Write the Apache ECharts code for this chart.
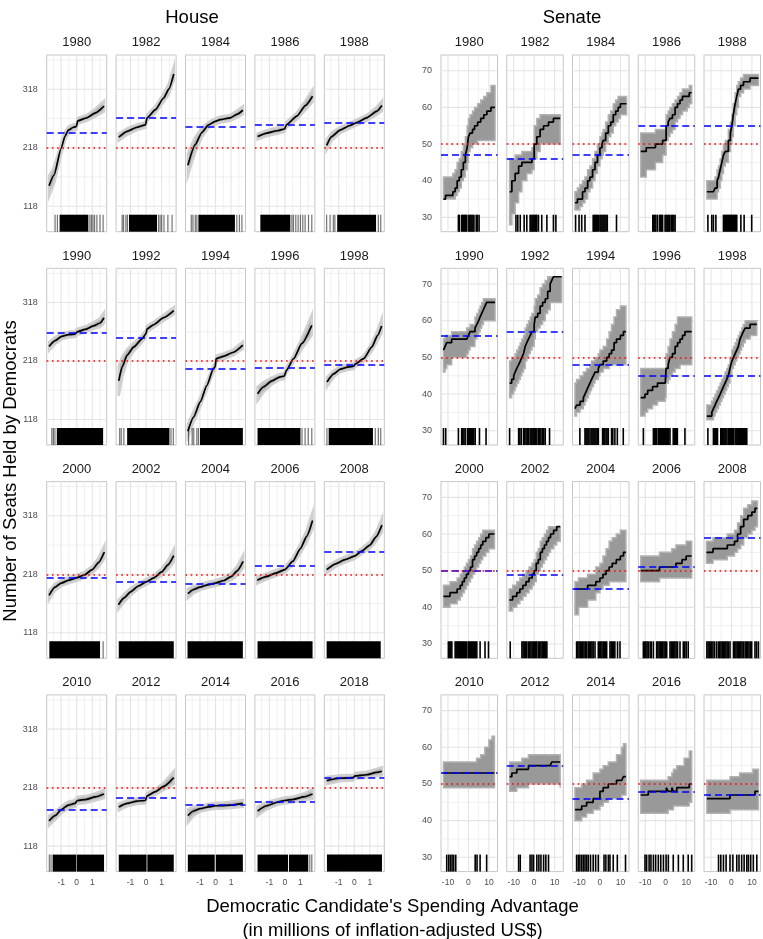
<!DOCTYPE html>
<html><head><meta charset="utf-8">
<script src="https://cdn.jsdelivr.net/npm/echarts@6/dist/echarts.min.js"></script>
<style>html,body{margin:0;padding:0;background:#fff}#c{width:763px;height:939px}</style>
</head><body><div id="c"></div>
<script>
// ---------------- DATA ----------------
const houseYears = [1980,1982,1984,1986,1988,1990,1992,1994,1996,1998,2000,2002,2004,2006,2008,2010,2012,2014,2016,2018];
const houseSeats = [243,269,253,258,260,267,258,204,207,211,212,205,202,233,257,180,201,188,194,235];
const houseMajority = 218;
// each point: [spending advantage, seats, lower, upper]
const houseCurves = [
 [[-1.78,153,135,170],[-1.46,171,156,185],[-1.0,217,207,226],[-0.75,238,231,245],[-0.54,248,242,254],[-0.21,253,248,258],[-0.02,254,249,259],[0.06,264,259,269],[0.64,269,264,274],[1.18,277,271,284],[1.76,289,280,298]],
 [[-1.76,236,230,242],[-1.22,246,240,251],[-0.58,253,248,258],[-0.04,257,252,262],[0.06,269,264,274],[0.6,283,277,289],[1.13,303,296,311],[1.46,318,309,327],[1.78,344,333,356]],
 [[-1.78,188,170,208],[-1.31,223,210,236],[-0.88,244,236,252],[-0.45,257,252,262],[-0.02,263,258,268],[0.3,266,261,271],[0.94,269,264,274],[1.37,275,269,281],[1.76,282,275,289]],
 [[-1.76,237,232,242],[-1.16,243,238,248],[-0.51,247,242,252],[-0.02,250,245,255],[0.09,257,252,262],[0.77,272,266,278],[1.31,290,282,298],[1.78,306,296,317]],
 [[-1.78,222,214,232],[-1.46,237,230,244],[-0.92,248,243,253],[-0.28,256,251,261],[0.15,261,256,266],[0.79,269,264,274],[1.43,280,274,287],[1.78,290,281,298]],
 [[-1.78,243,236,250],[-1.39,253,247,259],[-0.96,260,255,265],[-0.54,263,258,268],[-0.11,264,259,269],[0.04,268,263,273],[0.54,272,267,277],[1.07,278,273,284],[1.5,283,276,291],[1.76,292,283,301]],
 [[-1.76,184,158,210],[-1.54,208,190,225],[-1.22,228,218,238],[-0.79,242,235,249],[-0.26,256,250,262],[0,265,259,271],[0.06,273,268,278],[0.49,280,275,285],[1.13,292,287,297],[1.78,304,298,310]],
 [[-1.78,98,88,110],[-1.41,122,113,131],[-0.98,148,140,156],[-0.56,176,169,183],[-0.13,205,199,211],[-0.02,208,202,214],[0.04,222,217,227],[0.51,226,221,231],[1.16,233,228,238],[1.76,245,239,251]],
 [[-1.76,162,150,174],[-1.37,174,165,182],[-0.84,184,178,190],[-0.3,191,186,196],[-0.04,192,187,197],[0.09,202,197,207],[0.56,222,216,228],[1.09,248,239,257],[1.73,279,262,297]],
 [[-1.76,182,174,190],[-1.33,196,190,202],[-0.9,204,199,209],[-0.36,208,203,213],[-0.04,209,204,214],[0.06,213,208,218],[0.6,222,217,227],[1.13,242,235,249],[1.5,262,253,271],[1.76,278,266,290]],
 [[-1.78,182,174,190],[-1.4,196,190,202],[-1.0,203,198,208],[-0.5,208,203,213],[0,212,207,217],[0.5,217,212,222],[1.0,226,220,232],[1.4,238,230,246],[1.78,256,245,267]],
 [[-1.78,166,158,174],[-1.4,178,171,185],[-1.0,188,182,194],[-0.5,198,193,203],[0,205,200,210],[0.5,212,207,217],[1.0,222,216,228],[1.4,234,226,242],[1.78,250,239,261]],
 [[-1.78,185,177,193],[-1.4,192,186,198],[-1.0,196,191,201],[-0.5,200,195,205],[0,203,198,208],[0.5,207,202,212],[1.0,214,208,220],[1.4,224,216,232],[1.78,240,229,251]],
 [[-1.78,208,202,214],[-1.2,214,209,219],[-0.6,220,215,225],[0,226,221,231],[0.5,240,234,246],[1.0,262,254,270],[1.4,283,273,293],[1.78,310,296,324]],
 [[-1.78,226,220,232],[-1.2,236,231,241],[-0.6,243,238,248],[0,249,244,254],[0.5,258,253,263],[1.0,268,262,274],[1.4,282,274,290],[1.78,302,290,314]],
 [[-1.78,161,153,170],[-1.39,170,163,177],[-0.96,181,175,187],[-0.54,188,182,194],[-0.11,191,185,197],[0.04,196,190,202],[0.64,198,192,204],[1.18,202,196,208],[1.76,207,200,214]],
 [[-1.76,185,179,191],[-1.22,191,186,196],[-0.58,195,190,200],[-0.04,196,191,201],[0.06,204,199,209],[0.6,211,206,216],[1.13,220,214,226],[1.78,235,224,246]],
 [[-1.78,170,158,181],[-1.41,178,170,185],[-0.98,182,177,187],[-0.45,185,180,190],[-0.02,187,182,192],[0.41,187,182,192],[0.94,188,183,194],[1.76,191,185,197]],
 [[-1.76,178,170,186],[-1.16,187,181,193],[-0.51,193,188,198],[-0.02,196,191,201],[0.56,198,193,203],[1.2,202,196,208],[1.78,207,199,215]],
 [[-1.78,230,224,236],[-0.92,234,229,239],[-0.06,235,230,240],[0.04,238,233,243],[0.79,240,235,245],[1.43,244,238,250],[1.78,246,239,253]]
];
// dense stretches of races (solid) and isolated races
const houseRugBlocks = [
 [[-1.1,0.75]],[[-1.1,0.7]],[[-1.1,1.25]],[[-1.58,0.35]],[[-1.1,1.4]],
 [[-1.28,1.7]],[[-1.22,1.5]],[[-1.0,1.76]],[[-1.76,1.0]],[[-1.65,1.2]],
 [[-1.76,1.5]],[[-1.76,1.78]],[[-1.8,1.76]],[[-1.76,1.78]],[[-1.78,1.7]],
 [[-1.55,-0.02],[0.02,1.76]],[[-1.76,0.03],[0.08,1.78]],[[-1.78,-0.05],[0.02,1.76]],[[-1.76,0.2],[0.26,1.5]],[[-1.76,1.78]]
];
const houseRugTicks = [
 [-1.39,-1.24,0.85,0.95,1.05,1.15,1.3,1.5,1.7],
 [-1.54,-1.45,-1.3,-1.2,0.8,0.9,1.0,1.15,1.4,1.67],
 [-1.56,-1.45,-1.3,-1.2,1.37,1.54,1.7],
 [0.45,0.55,0.7,0.85,1.0,1.15,1.3,1.52,1.73],
 [-1.78,-1.56,-1.35,-1.25,1.55,1.7],
 [-1.6,-1.5,-1.4],
 [-1.7,-1.6,-1.43,1.6,1.75],
 [-1.73,-1.5,-1.4,-1.2,-1.1],
 [1.1,1.3,1.5,1.73],
 [-1.76,1.35,1.55,1.7],
 [1.7],[],[],[],[],
 [-1.76,-1.65],[],[],[1.6,1.73],[]
];

const senateYears = houseYears.slice();
const senateSeats = [47,46,47,55,55,56,57,48,45,45,50,49,45,51,59,53,55,46,48,47];
const senateMajority = 50;
const senateCurves = [
 [[-12.2,35,35,41],[-11.2,36,35,41],[-7.6,37,35,42],[-6.5,38,36,43],[-5.5,40,37,45],[-4.5,41,38,46],[-3.5,43,40,48],[-2.5,45,41,50],[-1.5,47,43,52],[-0.6,49,45,55],[0,52,48,57],[0.8,53,49,58],[2,54,50,59],[3,55,50,60],[4.5,56,51,61],[6,57,51,62],[7.5,58,51,63],[9,59,51,64],[11,60,51,66],[13,60,51,66]],
 [[-12,37,28,46],[-10.9,40,31,46],[-9.3,42,34,47],[-7.6,44,37,47],[-6,45,40,48],[-3.6,45,42,48],[-1.1,46,43,49],[0,50,46,55],[1.3,52,48,57],[2.9,54,50,58],[4.6,55,50,58],[7,56,50,58],[9.4,57,50,58],[12.7,57,50,58]],
 [[-12.2,34,32,37],[-11,35,32,38],[-9.8,35,33,39],[-8.5,37,34,40],[-7.3,38,35,41],[-6,40,37,43],[-4.9,41,38,44],[-3.6,43,40,46],[-2.4,45,42,48],[-1.2,47,44,50],[0,49,46,52],[1,50,47,53],[1.6,51,48,54],[2.8,53,50,56],[4.1,55,52,58],[5.3,56,53,59],[6.5,58,55,61],[7.7,59,56,62],[8.9,60,57,63],[10,61,58,63],[13,61,58,63]],
 [[-12.2,48,41,53],[-9.5,49,43,53],[-5,50,45,54],[-1.5,51,47,54],[0.2,55,51,58],[1.2,56,52,59],[2.1,57,53,60],[3.3,58,54,61],[4.6,60,56,62],[5.8,61,57,63],[7,62,58,64],[8.2,63,59,65],[10.5,63,60,65],[11.5,64,61,66],[12.7,64,61,66]],
 [[-12,37,35,40],[-8.8,37,35,40],[-8,38,35,41],[-7,40,37,43],[-6.3,41,38,44],[-5.5,43,40,46],[-4.7,45,42,48],[-3.9,47,44,50],[-3,48,45,51],[-1.5,51,48,54],[-0.5,53,50,56],[0.2,55,52,58],[0.9,58,55,61],[1.8,61,58,64],[2.6,63,60,66],[3.4,65,63,67],[4.5,66,64,68],[5.9,67,65,69],[9.1,68,66,69],[13.2,68,66,69]],
 [[-12.2,52,46,55],[-11.4,53,47,56],[-10.6,54,48,56],[-8.2,55,50,57],[-0.8,55,51,58],[0,56,52,58],[0.8,57,53,59],[3.2,58,55,61],[4.1,59,56,62],[5,60,57,63],[5.7,61,58,64],[6.5,62,59,65],[7.3,63,60,66],[8.1,64,60,66],[8.9,65,60,66],[13,65,60,66]],
 [[-12,43,39,49],[-11,44,40,50],[-10,45,41,50],[-9.3,46,42,51],[-8.5,47,43,52],[-7.6,48,44,53],[-6.8,49,45,54],[-6,50,46,55],[-5.2,51,47,56],[-4.4,53,49,58],[-3.6,54,50,59],[-2.8,55,51,60],[-1.9,56,52,61],[-1.1,57,53,62],[0,59,55,64],[0.5,61,57,66],[1.7,62,58,67],[2.9,64,59,69],[4.1,65,60,70],[5.4,66,62,71],[6.6,68,63,72],[7.8,70,65,72],[8.6,71,65,72],[9.4,72,65,72],[13.4,72,65,72]],
 [[-12.2,36,34,43],[-11.4,37,35,44],[-9.7,38,36,45],[-8.1,39,37,46],[-7.3,40,38,46],[-6.5,41,39,47],[-5.7,42,40,47],[-4.9,43,41,48],[-4.1,44,42,49],[-3.2,45,43,49],[-2.4,46,44,50],[-0.8,47,45,51],[0,48,46,52],[1.6,49,47,53],[3.3,50,47,55],[4.5,51,48,57],[5.7,52,48,59],[6.9,54,48,61],[8.1,55,48,63],[10,56,48,64],[11.5,57,48,64],[12.7,57,48,64]],
 [[-12.2,39,34,47],[-10.1,40,35,47],[-8.8,41,36,47],[-6.4,42,37,47],[-4,43,38,47],[-0.2,43,39,47],[0.2,47,43,51],[1.2,48,44,53],[2.1,50,45,55],[3.3,51,46,57],[4.6,53,47,59],[5.8,54,47,61],[7,55,48,61],[8.2,56,48,61],[9.4,57,48,61],[12.7,57,48,61]],
 [[-12,34,33,37],[-9.6,35,33,38],[-8.8,36,34,39],[-8,37,35,40],[-7.2,38,36,41],[-6.3,39,37,42],[-5.5,40,38,43],[-4.7,41,39,44],[-3.9,42,40,45],[-3.1,43,41,46],[-2.3,44,42,47],[-1.5,45,43,48],[-0.7,47,45,50],[0.2,49,47,52],[1,50,48,53],[1.8,51,49,54],[2.6,52,50,55],[3.4,53,51,56],[4.2,55,52,57],[5,56,53,58],[5.8,57,54,59],[6.7,58,55,60],[9.1,59,56,60],[12.4,59,56,60]],
 [[-12.2,43,40,46],[-9,44,41,47],[-5.5,45,42,48],[-4,46,43,49],[-3,47,44,50],[-2,48,45,51],[-1,49,46,52],[0,50,47,53],[1,51,48,54],[2,53,49,56],[3,54,50,57],[4,55,51,58],[5,56,52,59],[6,57,53,60],[7,58,54,61],[8.5,59,55,61],[10,60,56,61],[12.7,60,56,61]],
 [[-12.2,42,39,45],[-10.5,43,40,46],[-8.5,44,41,47],[-7,45,42,48],[-5.5,46,43,49],[-4,47,44,50],[-2.5,48,45,51],[-1,49,46,52],[0,50,47,53],[1,52,49,55],[2,53,50,56],[3,55,51,58],[4,56,52,59],[5,57,53,60],[6,58,54,61],[7,59,55,62],[8,60,56,62],[9.5,61,57,62],[11,62,58,62],[12.7,62,58,62]],
 [[-12.2,45,38,47],[-10.5,45,40,48],[-6,46,42,49],[-2,47,44,51],[0,48,45,52],[1.5,49,46,54],[3,50,46,56],[4.5,51,47,58],[6,52,47,59],[8,53,47,60],[10,54,47,61],[11.5,55,47,61],[12.7,55,47,61]],
 [[-12.2,50,47,54],[-3,51,48,55],[3,51,48,56],[5,52,48,57],[8,53,48,57],[10,54,48,58],[12.7,54,48,58]],
 [[-12.2,55,52,58],[-9,56,53,59],[-2,57,54,60],[1.5,58,55,61],[3,60,56,63],[4.5,62,57,65],[6,64,59,67],[8,65,60,68],[10,66,61,69],[11.5,67,62,69],[12.7,67,62,69]],
 [[-12.2,53,49,56],[4,53,49,57],[6,53,49,58],[8,53,49,60],[10,53,49,62],[11.5,53,49,63],[12.7,53,49,63]],
 [[-12,52,48,56],[-10.9,53,48,56],[-8.5,54,49,56],[-6,54,49,57],[-2.8,55,50,58],[7.8,55,50,58],[8.6,56,50,58],[12.7,56,49,58]],
 [[-12.2,43,40,49],[-8.9,44,41,50],[-6.5,45,42,51],[-3.3,46,43,53],[0,48,44,54],[1.6,49,45,55],[4.1,50,46,56],[8.1,51,46,58],[10.6,51,47,60],[11.5,52,47,61],[12.7,52,47,61]],
 [[-12.2,47,42,51],[-8.5,48,42,51],[0.3,49,42,51],[1.2,48,43,52],[3,49,43,53],[3.8,48,44,54],[5.4,49,44,55],[9,49,44,57],[11.5,50,45,59],[12.7,50,45,59]],
 [[-12,46,42,51],[-0.7,47,43,52],[4,47,43,53],[10.5,47,43,54],[11.5,48,43,54],[13.2,48,43,54]]
];
const senateRug = [
 [-4.9,-4.4,-3.3,-2.8,-2.3,-1.8,-1.3,-0.8,0.2,0.7,1.2,1.7,2.2,2.7,3.8,4.3,5.2],
 [-8.9,-8.0,-6.8,-4.9,-3.6,-2.0,-1.5,-1.0,-0.5,0,0.5,1.0,1.3,2.1,3.7,6.2,9.4,10.6],
 [-11.9,-10.2,-8.9,-7.3,-3.3,-2.8,-2.3,-1.8,-1.3,-0.8,0,0.5,1.0,1.5,2.0,2.5,3.0,3.6,8.1],
 [-6.3,-5.8,-5.3,-4.8,-4.0,-3.0,-2.5,-2.0,-1.5,-0.3,0.2,0.7,1.2,1.7,2.1,2.9,3.4,4.0,4.6],
 [-11.5,-9.6,-8.8,-7.6,-3.9,-3.4,-2.9,-2.4,-1.9,-1.4,-0.9,-0.4,0.1,0.6,1.1,1.6,2.1,2.6,4.6,6.2,9.9],
 [-12.2,-11.1,-4.9,-3.3,-2.8,-2.2,-1.6,-0.5,0,0.5,1,1.5,2,2.6,3.3,5.4,8.6],
 [-12,-7.6,-7.0,-6.3,-5.2,-4.6,-4.0,-3.4,-2.8,-2,-1.5,-1,-0.5,0,0.6,1.3,2.1,2.7,3.3,4.0,4.7,5.4,7.5],
 [-9.8,-7.3,-6.8,-6.3,-5.8,-5.3,-4.4,-3.9,-3.4,-2.9,-2.4,-1.9,-1.3,-0.8,1.3,1.8,2.4,3.0,3.5,4.1,5.7,6.3,7.3,8.5,11.4],
 [-10.9,-6,-5.5,-5,-4.4,-3.6,-3.1,-2.6,-2.1,-1.6,-1.1,-0.6,-0.1,0.4,0.9,1.5,2.1,3.7,4.2,4.7,5.2,5.7,9.4],
 [-11.5,-8.8,-8.3,-7.8,-7.3,-6.8,-5.2,-4.7,-4.2,-3.7,-3.2,-2.7,-2.2,-1.5,-1,-0.5,0,0.5,1,1.8,2.3,2.8,3.3,3.8,4.3,4.8,5.3,5.8,6.3,6.9,7.5],
 [-9.8,-9.2,-8.6,-8.1,-6.5,-6,-5.5,-5,-4.5,-4,-3.5,-3,-2.5,-2,-1.4,-0.8,0,0.5,1,1.5,2,2.5,3,3.5,4.1,5.7,8.1,9.8],
 [-11.7,-6,-5.4,-4.8,-4.2,-3.6,-2.8,-2.2,-1.6,-1,-0.4,0.2,0.8,1.3,2.1,2.7,3.3,3.9,4.5,5.1,5.6,6.2],
 [-11.4,-10.8,-10.2,-9.6,-9,-8.4,-7.8,-7.2,-6.5,-5.7,-5.1,-4.5,-3.9,-3.3,-2.4,-0.8,-0.2,0.4,1,1.6,2.2,2.8,3.3,4.9,5.5,6.1,6.7,7.3,8.6,9.8],
 [-10.9,-10.3,-9.7,-9.1,-8.5,-7.6,-7,-6,-4.4,-3.8,-3.2,-2.6,-2,-1.4,-0.8,-0.2,0.5,2.1,2.7,3.3,3.9,4.5,5.1,5.8,7,8.6,9.3,10,11],
 [-12,-11.4,-10.8,-10.2,-9.6,-9,-8.2,-7.2,-6.3,-5.7,-5.1,-4.5,-3.9,-3.3,-2.7,-2.1,-1.5,-0.7,1,1.6,2.2,2.8,3.4,4,4.6,5.2,5.9,6.7,7.3,8,8.6,9.3,9.9,11.5,12.3,13.2],
 [-10.6,-9.6,-8.8,-8,-7.2,-6.2,3.3,4.2,5.7,8.9],
 [-7.6,-6.8,-2,-1.1,-0.3,1.3,2.3,3.3,4.6,5.7,7.0],
 [-11.4,-10.6,-9.8,-8.9,-8.1,-7.3,-6.5,-5.7,-4.6,-3.3,-2.1,-0.8,2,2.9,4.1,4.9,6.5,8.5,12.5],
 [-10.1,-9.3,-8.1,-7.2,-6,-4.9,-3.6,-2.4,-1.1,0.2,1.3,3.7,6.2,8.6,11,12.7],
 [-6.3,-5.2,-3.9,-2.6,-0.7,0.7,2.6,3.7,5,6.2,7.5,8.3,9.4,10.7,12.4]
];

const houseXTicks = [-1,0,1], houseXMinor = [-1.5,-0.5,0.5,1.5];
const houseYTicks = [118,218,318], houseYMinor = [168,268,368];
const senateXTicks = [-10,0,10], senateXMinor = [-5,5];
const senateYTicks = [30,40,50,60,70], senateYMinor = [35,45,55,65];

// ---------------- LAYOUT / STYLE ----------------
const FONT = '"Liberation Sans", Arial, Helvetica, sans-serif';
const ROW_TOP0 = 55, ROW_STEP = 213.3, PANEL_H = 176.7;
const RUG_LEN = 17;
const chambers = [
  {years:houseYears, seats:houseSeats, maj:houseMajority, curves:houseCurves, left0:46.7, step:69.4, w:60,
   xr:[-1.93,1.93], yr:[74.4,376.5], xt:houseXTicks, xm:houseXMinor, yt:houseYTicks, ym:houseYMinor, stepped:false,
   band:{fill:'#b4b4b4', stroke:'#d0d0d0', lw:2.5}},
  {years:senateYears, seats:senateSeats, maj:senateMajority, curves:senateCurves, left0:441, step:65.75, w:56.5,
   xr:[-13.4,14.2], yr:[26.1,74.3], xt:senateXTicks, xm:senateXMinor, yt:senateYTicks, ym:senateYMinor, stepped:true,
   band:{fill:'#999999', stroke:'#b2b2b2', lw:1.5}}
];

const grids = [], xAxes = [], yAxes = [], series = [], texts = [];

chambers.forEach((ch, c) => {
  ch.years.forEach((yr, i) => {
    const row = Math.floor(i / 5), col = i % 5;
    const g = grids.length;
    const left = ch.left0 + col * ch.step, top = ROW_TOP0 + row * ROW_STEP;
    grids.push({left, top, width: ch.w, height: PANEL_H, show: true, borderColor: '#c6c6c6', borderWidth: 1, backgroundColor: 'transparent'});
    xAxes.push({type:'value', gridIndex:g, min:ch.xr[0], max:ch.xr[1], axisLine:{show:false}, axisTick:{show:false}, splitLine:{show:false},
      axisLabel:{show: row === 3, customValues: ch.xt, fontSize: 8.5, color:'#4d4d4d', margin: 6.5, fontFamily: FONT}});
    yAxes.push({type:'value', gridIndex:g, min:ch.yr[0], max:ch.yr[1], axisLine:{show:false}, axisTick:{show:false}, splitLine:{show:false},
      axisLabel:{show: col === 0, customValues: ch.yt, fontSize: 9, color:'#4d4d4d', margin: 9, fontFamily: FONT}});
    texts.push({type:'text', style:{text:String(yr), x:left + ch.w/2, y:top - 12.3, textAlign:'center', textVerticalAlign:'middle', font:'13px ' + FONT, fill:'#1a1a1a'}});

    const curve = ch.curves[i];
    // grid lines
    series.push({type:'custom', xAxisIndex:g, yAxisIndex:g, z:0, silent:true, data:[[ch.xr[0], ch.yr[0]]],
      renderItem: (params, api) => {
        const cs = params.coordSys, kids = [];
        const vline = (v, lw, col) => { const x = api.coord([v, ch.yr[0]])[0];
          kids.push({type:'line', shape:{x1:x, y1:cs.y, x2:x, y2:cs.y + cs.height}, style:{stroke:col, lineWidth:lw}}); };
        const hline = (v, lw, col) => { const y = api.coord([ch.xr[0], v])[1];
          kids.push({type:'line', shape:{x1:cs.x, y1:y, x2:cs.x + cs.width, y2:y}, style:{stroke:col, lineWidth:lw}}); };
        ch.xm.forEach(v => vline(v, 0.8, '#ececec'));
        ch.ym.forEach(v => hline(v, 0.8, '#ececec'));
        ch.xt.forEach(v => vline(v, 1.1, '#e4e4e4'));
        ch.yt.forEach(v => hline(v, 1.1, '#e4e4e4'));
        return {type:'group', children:kids};
      }});
    // uncertainty band
    series.push({type:'custom', xAxisIndex:g, yAxisIndex:g, z:1, silent:true, data:[[curve[0][0], curve[0][1]]],
      renderItem: (params, api) => {
        const up = [], dn = [];
        for (let k = 0; k < curve.length; k++) {
          const p = curve[k];
          up.push(api.coord([p[0], p[3]])); dn.push(api.coord([p[0], p[2]]));
          if (ch.stepped && k < curve.length - 1) {
            const nx = curve[k+1][0];
            up.push(api.coord([nx, p[3]])); dn.push(api.coord([nx, p[2]]));
          }
        }
        return {type:'polygon', shape:{points: up.concat(dn.reverse())},
          style:{fill: ch.band.fill, stroke: ch.band.stroke, lineWidth: ch.band.lw, lineJoin:'miter'}};
      }});
    // rug
    series.push({type:'custom', xAxisIndex:g, yAxisIndex:g, z:2, silent:true, data:[[ch.xr[0], ch.yr[0]]],
      renderItem: (params, api) => {
        const cs = params.coordSys, yb = cs.y + cs.height, yt = yb - RUG_LEN, kids = [];
        if (c === 0) {
          houseRugBlocks[i].forEach(b => { const x0 = api.coord([b[0], ch.yr[0]])[0], x1 = api.coord([b[1], ch.yr[0]])[0];
            kids.push({type:'rect', shape:{x:x0, y:yt, width:x1 - x0, height:RUG_LEN}, style:{fill:'#000'}}); });
          houseRugTicks[i].forEach(v => { const x = api.coord([v, ch.yr[0]])[0];
            kids.push({type:'line', shape:{x1:x, y1:yt, x2:x, y2:yb}, style:{stroke:'rgba(0,0,0,0.55)', lineWidth:1.2}}); });
        } else {
          senateRug[i].forEach(v => { const x = api.coord([v, ch.yr[0]])[0];
            kids.push({type:'line', shape:{x1:x, y1:yt, x2:x, y2:yb}, style:{stroke:'#000', lineWidth:1.6}}); });
        }
        return {type:'group', children:kids};
      }});
    // estimated seats line + reference lines
    series.push({type:'line', xAxisIndex:g, yAxisIndex:g, z:3, silent:true, showSymbol:false, symbol:'none',
      data: curve.map(p => [p[0], p[1]]),
      step: ch.stepped ? 'end' : false, smooth: ch.stepped ? false : 0.2, smoothMonotone: 'x',
      lineStyle:{color:'#000', width:1.7},
      markLine:{silent:true, symbol:['none','none'], label:{show:false}, animation:false, z:5,
        data:[
          {yAxis: ch.seats[i], lineStyle:{color:'#0000ff', type:[7,4], width:1.6}},
          {yAxis: ch.maj, lineStyle:{color:'#ff0000', type:[1.6,3.6], width:1.6}}
        ]}});
  });
});

texts.push({type:'text', style:{text:'House', x:192, y:18, textAlign:'center', textVerticalAlign:'middle', font:'18.5px ' + FONT, fill:'#000'}});
texts.push({type:'text', style:{text:'Senate', x:572, y:18, textAlign:'center', textVerticalAlign:'middle', font:'18.5px ' + FONT, fill:'#000'}});
texts.push({type:'text', rotation: Math.PI/2, x:11, y:471, style:{text:'Number of Seats Held by Democrats', x:0, y:0, textAlign:'center', textVerticalAlign:'middle', font:'18.5px ' + FONT, fill:'#000'}});
texts.push({type:'text', style:{text:"Democratic Candidate's Spending Advantage", x:392.5, y:907, textAlign:'center', textVerticalAlign:'middle', font:'18.5px ' + FONT, fill:'#000'}});
texts.push({type:'text', style:{text:'(in millions of inflation-adjusted US$)', x:392.5, y:931, textAlign:'center', textVerticalAlign:'middle', font:'18.5px ' + FONT, fill:'#000'}});

const chart = echarts.init(document.getElementById('c'), null, {renderer:'canvas'});
chart.setOption({animation:false, backgroundColor:'#fff', grid:grids, xAxis:xAxes, yAxis:yAxes, series, graphic:{elements:texts}});
</script></body></html>
